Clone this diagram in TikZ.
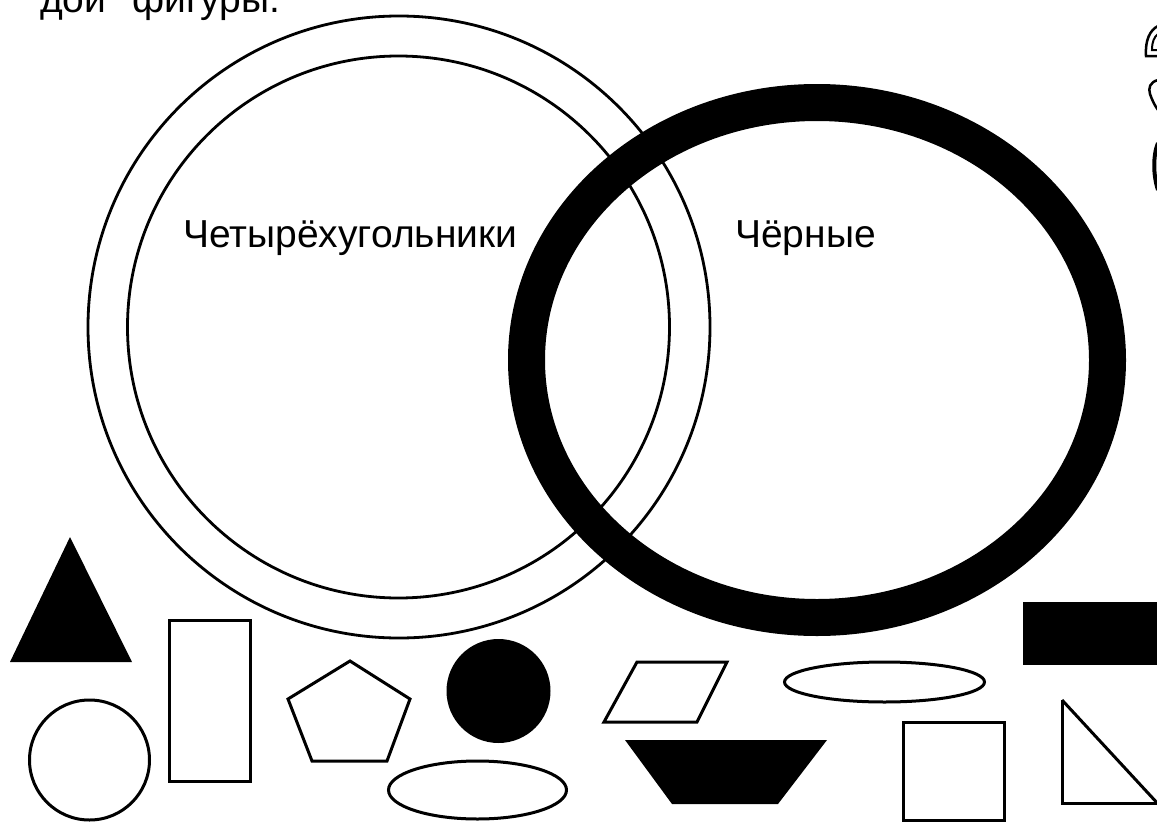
\documentclass[tikz,border=0pt]{standalone}
\usepackage{fontspec}
\setmainfont{Liberation Sans}
\begin{document}
\begin{tikzpicture}[x=1pt,y=-1pt,
  thinline/.style={draw=black,line width=2.8pt},
  outl/.style={draw=black,line width=3pt,line join=miter},
  solid/.style={fill=black,draw=none},
  lbl/.style={font=\fontsize{39}{44}\selectfont,inner sep=0pt,anchor=base west}]
\useasboundingbox (0,0) rectangle (1157,822);
\clip (0,0) rectangle (1157,822);
% header text (cut off at the top edge, as in the reference)
\node[lbl] (hdr) at (40,12) {дой\hspace{26pt}фигуры.};
% double circle
\draw[thinline] (399,327) circle [radius=311pt];
\draw[thinline] (398.5,327) circle [radius=271pt];
% black ring
\draw[line width=37pt,black] (817,360) ellipse [x radius=290.5pt, y radius=257.5pt];
% labels
\node[lbl] (quad) at (183,247) {Четырёхугольники};
\node[lbl] (blk) at (735,247) {Чёрные};
% bottom shapes
\fill[solid] (70,537) -- (132,662) -- (10,662) -- cycle;
\draw[outl] (89.5,760) circle [radius=60pt];
\draw[outl] (169,620) rectangle (250,781);
\draw[outl] (350,661) -- (410,699) -- (387,761) -- (312,761) -- (288,699) -- cycle;
\fill[solid] (498.5,691) circle [radius=52pt];
\draw[outl] (477.5,790) ellipse [x radius=89pt, y radius=29pt];
\draw[outl] (637,662) -- (727,662) -- (697,722) -- (604,722) -- cycle;
\fill[solid] (625,740) -- (827,740) -- (778,804) -- (672,804) -- cycle;
\draw[outl] (884.5,682) ellipse [x radius=100pt, y radius=20pt];
\fill[solid] (1023,602) rectangle (1160,665);
\draw[outl] (903,722) rectangle (1004,820);
\draw[outl] (1062,700) -- (1062,803) -- (1157,803);
\draw[outl] (1062,700) -- (1160,806);
% partial shapes at top right
\draw[line width=2.5pt] (1158,56) -- (1146,56) .. controls (1145,40) and (1150,30) .. (1158,26);
\draw[line width=2pt] (1158,50) -- (1152,50) .. controls (1152,42) and (1154,37) .. (1158,34);
\draw[line width=2.5pt] (1158,80) .. controls (1150,82) and (1148,88) .. (1150,94) .. controls (1152,100) and (1155,106) .. (1158,110);
\draw[line width=4pt] (1158,143) .. controls (1153,155) and (1153,175) .. (1158,190);
\end{tikzpicture}
\end{document}
